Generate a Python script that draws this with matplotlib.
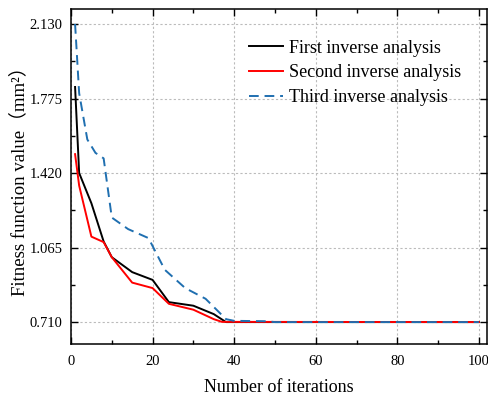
import matplotlib
matplotlib.use('Agg')
import matplotlib.pyplot as plt
from matplotlib.ticker import MultipleLocator, FixedLocator

# iterations and fitness values
first_x = [1, 2, 5, 8, 10, 15, 20, 24, 30, 35, 38, 100]
first_y = [1.83, 1.42, 1.276, 1.094, 1.019, 0.948, 0.911, 0.805, 0.788, 0.748, 0.710, 0.710]

second_x = [1, 2, 5, 8, 10, 15, 20, 24, 30, 35, 37, 100]
second_y = [1.51, 1.36, 1.117, 1.091, 1.019, 0.898, 0.872, 0.797, 0.769, 0.724, 0.711, 0.710]

third_x = [1, 2, 4, 6, 8, 10, 14, 19, 23, 28, 33, 38, 40, 48, 50, 100]
third_y = [2.13, 1.80, 1.58, 1.516, 1.49, 1.208, 1.153, 1.110, 0.959, 0.872, 0.821, 0.724, 0.716, 0.714, 0.710, 0.710]

y_ticks = [0.710, 1.065, 1.420, 1.775, 2.130]
y_tick_labels = ['0.710', '1.065', '1.420', '1.775', '2.130']

plt.rcParams['font.family'] = ['Liberation Serif', 'Noto Sans CJK SC']

fig = plt.figure(figsize=(4.88, 3.96), dpi=100)
ax = fig.add_axes([0.1455, 0.131, 0.8525, 0.8455])

ax.plot(first_x, first_y, color='black', lw=1.4, label='First inverse analysis')
ax.plot(second_x, second_y, color='red', lw=1.4, label='Second inverse analysis')
ax.plot(third_x, third_y, color='#1f6fb0', lw=1.4, dashes=(5, 3), label='Third inverse analysis')

ax.set_xlim(0, 102)
ax.set_ylim(0.605, 2.2)
ax.xaxis.set_major_locator(MultipleLocator(20))
ax.xaxis.set_minor_locator(MultipleLocator(10))
ax.yaxis.set_major_locator(FixedLocator(y_ticks))
ax.set_yticklabels(y_tick_labels)
ax.yaxis.set_minor_locator(FixedLocator([y_ticks[0] + 0.1775 * i for i in range(-1, 10, 2)]))
ax.tick_params(which='both', direction='in', top=True, right=True, labelsize=10.5)
ax.tick_params(which='major', length=5, width=1)
ax.tick_params(which='minor', length=3, width=1)
ax.tick_params(axis='x', pad=8)
ax.tick_params(axis='y', pad=6)
for s in ax.spines.values():
    s.set_linewidth(1.1)

ax.grid(True, which='major', color='#bbbbbb', ls=(0, (2, 2)), lw=0.8)

ax.set_xlabel('Number of iterations', fontsize=13, labelpad=7.5)
ax.set_ylabel('Fitness function value（mm²）', fontsize=13.5, labelpad=1)

ax.legend(loc='upper left', bbox_to_anchor=(0.428, 0.909), frameon=False, fontsize=13,
          borderpad=0, borderaxespad=0, handlelength=1.9, handletextpad=0.3,
          labelspacing=0.42)

fig.savefig('out.png', dpi=100)
